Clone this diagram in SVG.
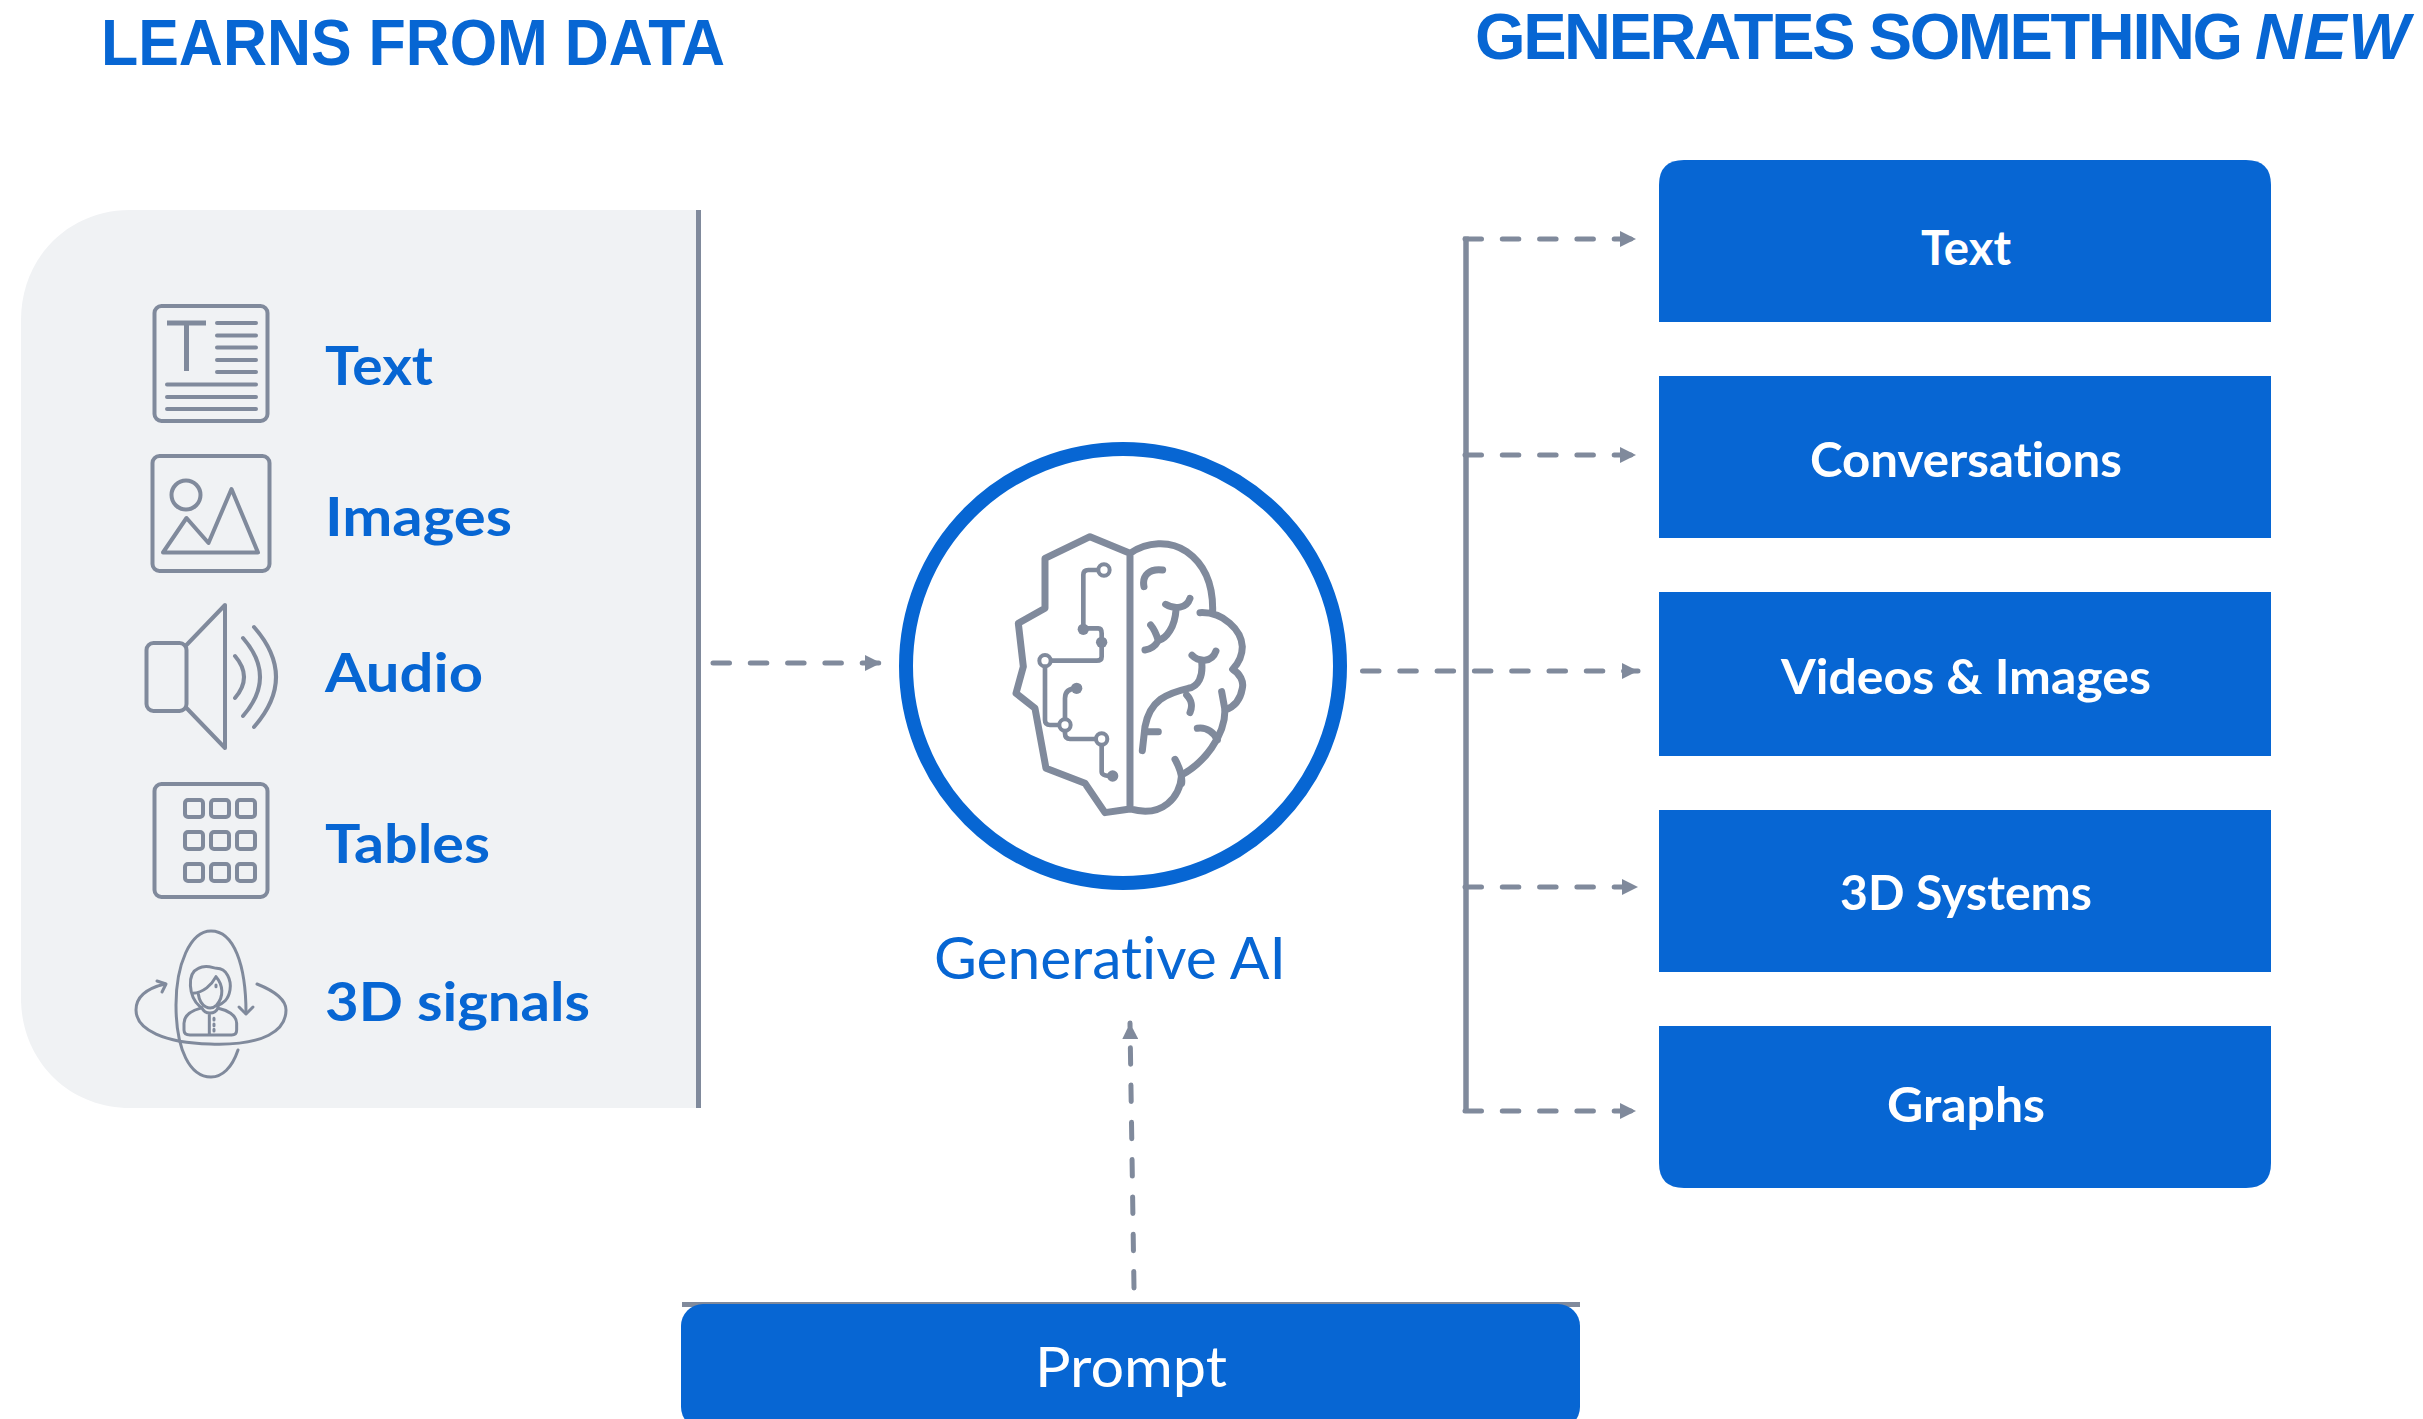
<svg xmlns="http://www.w3.org/2000/svg" width="2423" height="1419" viewBox="0 0 2423 1419">
<style>
text{font-family:Lato,"Open Sans","Liberation Sans",sans-serif;font-variant-ligatures:none}
.t{font-family:"Liberation Sans",Arial,sans-serif;font-weight:700;font-size:65px;fill:#0766d3}
.l{font-weight:700;font-size:54px;fill:#0766d3}
.w{font-weight:700;font-size:48px;fill:#fff;text-anchor:middle}
.box{fill:#0766d3}
.i{fill:none;stroke:#808a9c;stroke-width:4;stroke-linecap:round;stroke-linejoin:round}
.d{fill:none;stroke:#808a9c;stroke-width:5;stroke-linecap:round;stroke-dasharray:16.500 20.800}
.s{fill:none;stroke:#808a9c;stroke-width:5.500}
</style>
<defs>
<marker id="a" markerUnits="userSpaceOnUse" markerWidth="16" markerHeight="16" refX="16" refY="8" orient="auto"><path d="M0,0L16,8L0,16Z" fill="#808a9c"/></marker>
</defs>
<rect width="2423" height="1419" fill="#fff"/>
<text class="t" x="101" y="65" textLength="624" lengthAdjust="spacingAndGlyphs">LEARNS FROM DATA</text>
<text class="t" x="1475" y="59" letter-spacing="-2.400">GENERATES SOMETHING</text>
<text class="t" x="2255" y="59" letter-spacing="1.500" font-style="italic">NEW</text>

<g id="panel">
<path d="M700,210H130C68,210 21,258 21,320V998C21,1060 68,1108 130,1108H700Z" fill="#f0f2f4"/>
<path d="M698.500,210V1108" stroke="#808a9c" stroke-width="5" fill="none"/>
</g>
<g id="source-text">
<g class="i" transform="translate(0 1)"><rect x="154.500" y="305" width="113" height="115" rx="7"/>
<path style="stroke-width:5;stroke-linecap:butt" d="M167,322H206M186.500,322V370"/>
<path d="M217,322H256M217,334.500H256M217,346.500H256M217,359H256M217,371H256M167,383.500H256M167,396H256M167,408H256"/></g>
<text class="l" x="325" y="385" textLength="108" lengthAdjust="spacingAndGlyphs">Text</text>
</g>
<g id="source-images">
<g class="i" transform="translate(0 1)"><rect x="152.500" y="455" width="117" height="115" rx="7"/>
<circle cx="186" cy="494" r="14.500"/><path d="M163,551.500L186.500,517L208.500,542L231.500,488L258,551.500Z"/></g>
<text class="l" x="325" y="536" textLength="187" lengthAdjust="spacingAndGlyphs">Images</text>
</g>
<g id="source-audio">
<g class="i"><rect x="146.500" y="643" width="40" height="68" rx="7"/>
<path d="M186.500,645L225,605V748L186.500,708M235,656Q253,677 235,698M243,638Q277,677 243,716M254,627Q298,677 254,727"/></g>
<text class="l" x="325" y="692" textLength="158" lengthAdjust="spacingAndGlyphs">Audio</text>
</g>
<g id="source-tables">
<g class="i" transform="translate(0 1)"><rect x="154.500" y="783" width="113" height="113" rx="7"/>
<rect x="185" y="799" width="18" height="17" rx="3"/><rect x="211" y="799" width="18" height="17" rx="3"/><rect x="237" y="799" width="18" height="17" rx="3"/>
<rect x="185" y="831" width="18" height="17" rx="3"/><rect x="211" y="831" width="18" height="17" rx="3"/><rect x="237" y="831" width="18" height="17" rx="3"/>
<rect x="185" y="863" width="18" height="17" rx="3"/><rect x="211" y="863" width="18" height="17" rx="3"/><rect x="237" y="863" width="18" height="17" rx="3"/></g>
<text class="l" x="325" y="863" textLength="165" lengthAdjust="spacingAndGlyphs">Tables</text>
</g>
<g id="source-3d">
<g class="i" style="stroke-width:3">
<path d="M165,984C140,990 136,1002 136,1010C136,1030 165,1043 210,1044C265,1046 286,1030 286,1010C286,998 272,990 257,984"/>
<path d="M157,981L166,984L162,992"/>
<path d="M238,1050C232,1068 222,1077 211,1077C190,1077 176,1050 176,1005C176,965 190,931 211,931C234,931 246,965 246,1013"/>
<path d="M239,1007L246,1014L253,1007"/>
<g transform="translate(120 900) scale(.3333)" style="stroke-width:9">
<path d="M240,320C205,290 200,220 235,205C260,192 280,205 290,205C320,205 335,240 330,270C325,300 310,310 290,318"/>
<path d="M218,280C250,278 275,255 288,230C310,255 312,290 290,315C270,335 240,320 235,282"/>
<path d="M240,325C205,335 192,350 192,370V390Q192,405 210,405H335Q350,405 350,390V370C350,345 320,330 295,325M245,322C255,345 285,345 295,322M268,345V405"/>
<path d="M288,255V260M282,355V360M282,372V377M282,388V393"/>
</g>
</g>
<text class="l" x="325" y="1021" textLength="265" lengthAdjust="spacingAndGlyphs">3D signals</text>
</g>

<g id="generative-ai">
<circle cx="1123" cy="666" r="217" fill="#fff" stroke="#0766d3" stroke-width="14"/>
<g transform="translate(990 510) scale(.3333)" style="fill:none;stroke:#808a9c;stroke-width:21;stroke-linejoin:round;stroke-linecap:round">
<path d="M420,130L300,80L165,145V295L85,340L100,470L78,550L135,595L168,775L285,820L345,908L420,897ZM420,130C470,95 540,90 590,125C640,160 670,220 668,305M630,308C700,305 755,360 757,410C757,440 745,460 728,478C750,490 762,515 757,535C752,565 735,590 705,600C705,680 640,760 575,795C570,860 520,925 420,897"/>
<path d="M462,230C455,195 480,175 518,180M527,283C555,300 590,295 600,265M558,300C555,350 530,385 505,392C495,410 480,418 465,420M482,345C495,360 500,375 505,392M606,436C625,455 665,460 678,423M635,455C640,500 625,530 595,535C530,550 480,570 465,650L457,722M590,555C605,570 608,590 600,608M465,665H505M622,655C650,650 675,670 682,690M695,545L705,600M555,748C570,775 578,795 575,820"/>
<path d="M342,180H295Q280,180 280,195V355H325Q335,355 335,370V440Q335,452 320,452H165V630Q165,645 180,645H225V565Q225,535 260,535M225,645V670Q225,687 240,687H335V785Q335,798 368,798" style="stroke-width:14"/>
<circle cx="342" cy="180" r="17" fill="#fff" style="stroke-width:12"/>
<circle cx="165" cy="452" r="17" fill="#fff" style="stroke-width:12"/>
<circle cx="225" cy="645" r="17" fill="#fff" style="stroke-width:12"/>
<circle cx="335" cy="687" r="17" fill="#fff" style="stroke-width:12"/>
<circle cx="280" cy="358" r="17" fill="#808a9c" stroke="none"/>
<circle cx="335" cy="397" r="17" fill="#808a9c" stroke="none"/>
<circle cx="260" cy="535" r="17" fill="#808a9c" stroke="none"/>
<circle cx="368" cy="798" r="17" fill="#808a9c" stroke="none"/>
</g>
<text x="1110" y="979" font-size="58" fill="#0766d3" text-anchor="middle" textLength="352" lengthAdjust="spacingAndGlyphs">Generative AI</text>
</g>

<g id="out-text"><path class="box" d="M1659,322V185Q1659,160 1684,160H2246Q2271,160 2271,185V322Z"/><text class="w" x="1966" y="265" textLength="90" lengthAdjust="spacingAndGlyphs">Text</text></g>
<g id="out-conversations"><rect class="box" x="1659" y="376" width="612" height="162"/><text class="w" x="1966" y="477" textLength="312" lengthAdjust="spacingAndGlyphs">Conversations</text></g>
<g id="out-videos"><rect class="box" x="1659" y="592" width="612" height="164"/><text class="w" x="1966" y="694" textLength="370" lengthAdjust="spacingAndGlyphs">Videos &amp; Images</text></g>
<g id="out-3d"><rect class="box" x="1659" y="810" width="612" height="162"/><text class="w" x="1966" y="910" textLength="252" lengthAdjust="spacingAndGlyphs">3D Systems</text></g>
<g id="out-graphs"><path class="box" d="M1659,1026H2271V1163Q2271,1188 2246,1188H1684Q1659,1188 1659,1163Z"/><text class="w" x="1966" y="1122" textLength="158" lengthAdjust="spacingAndGlyphs">Graphs</text></g>

<g id="prompt">
<rect x="682" y="1302" width="898" height="5" fill="#808a9c"/>
<rect class="box" x="681" y="1304" width="899" height="125" rx="22"/>
<text x="1131" y="1387" font-size="56" fill="#fff" text-anchor="middle" textLength="192" lengthAdjust="spacingAndGlyphs">Prompt</text></g>

<g id="connectors">
<path class="s" d="M1466,236.500V1113"/>
<path class="d" d="M1465,239H1636" marker-end="url(#a)"/>
<path class="d" d="M1465,455H1636" marker-end="url(#a)"/>
<path class="d" d="M1362.500,671H1638" marker-end="url(#a)"/>
<path class="d" d="M1465,887H1638" marker-end="url(#a)"/>
<path class="d" d="M1465,1111H1636" marker-end="url(#a)"/>
<path class="d" d="M713,663H881" marker-end="url(#a)"/>
<path class="d" d="M1134,1288L1130,1023" marker-end="url(#a)"/>
</g>
</svg>
